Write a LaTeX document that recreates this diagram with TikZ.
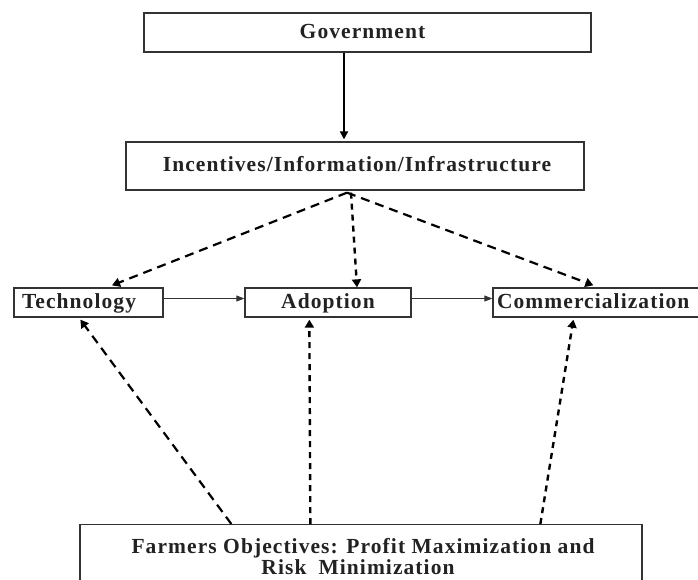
\documentclass[tikz,border=0pt]{standalone}
\usepackage{fontspec}
\setmainfont{Liberation Serif}[LetterSpace=5]
\usetikzlibrary{arrows.meta}
\definecolor{ink}{HTML}{222222}
\definecolor{edge}{HTML}{333333}
\tikzset{
  box/.style={draw=edge, line width=1.3pt, text=ink, font=\fontsize{21.5}{22}\selectfont\bfseries, inner sep=0pt, text height=15pt, text depth=4pt},
  lbl/.style={text=ink, font=\fontsize{21.5}{22}\selectfont\bfseries, inner sep=0pt},
  dasharrow/.style={draw=black, line width=2.2pt, dash pattern=on 9pt off 6pt, -{Triangle[length=8pt,width=9pt]}},
  vdasharrow/.style={draw=black, line width=2.4pt, dash pattern=on 6pt off 5pt, -{Triangle[length=8pt,width=9pt]}},
  thinarrow/.style={draw=edge, line width=1pt, -{Triangle[length=8pt,width=6pt]}},
  solidarrow/.style={draw=black, line width=2pt, -{Triangle[length=8pt,width=8pt]}},
}
\begin{document}
\begin{tikzpicture}[x=1pt,y=-1pt]
\useasboundingbox (0,0) rectangle (698,579);
\node[box, minimum width=447pt, minimum height=39pt] (gov) at (367.5,32.5) {\hspace*{-10pt}Government};
\node[box, minimum width=458pt, minimum height=48pt] (inc) at (355,166) {\hspace*{4pt}Incentives/Information/Infrastructure};
\node[box, minimum height=29pt, text width=135pt, inner xsep=7pt, align=left] (tech) at (88.5,302.5) {\hspace*{1pt}Technology};
\node[box, minimum width=166pt, minimum height=29pt] (adopt) at (328,302.5) {Adoption};
\node[box, minimum height=29pt, text width=206pt, inner xsep=4pt, align=left] (comm) at (600,302.5) {Commercialization};
\node[draw=edge, line width=1.3pt, minimum width=562pt, minimum height=72pt, anchor=north] (farm) at (361,524) {};
\node[lbl, anchor=base] (farm1) at (363,553) {Farmers Objectives: Profit Maximization and};
\node[lbl, anchor=base] (farm2) at (358,574) {Risk\hspace{12pt}Minimization};

\draw[solidarrow] ([xshift=-23.5pt]gov.south) -- ([xshift=-11pt,yshift=2pt]inc.north);

\draw[dasharrow] ([xshift=-8pt,yshift=-2pt]inc.south) -- ([xshift=23.5pt,yshift=2pt]tech.north);
\draw[vdasharrow] ([xshift=-4pt,yshift=-2pt]inc.south) -- ([xshift=29pt]adopt.north);
\draw[dasharrow] ([xshift=-8pt,yshift=-2pt]inc.south) -- ([xshift=101pt,yshift=2pt]comm.north west);

\draw[thinarrow] ([yshift=4pt]tech.east) -- ([yshift=4pt]adopt.west);
\draw[thinarrow] ([yshift=4pt]adopt.east) -- ([yshift=4pt]comm.west);

\draw[dasharrow] ([xshift=152pt]farm.north west) -- ([xshift=67pt,yshift=-2pt]tech.south west);
\draw[vdasharrow] ([xshift=231pt]farm.north west) -- ([xshift=65pt,yshift=-2pt]adopt.south west);
\draw[vdasharrow] ([xshift=461pt]farm.north west) -- ([xshift=81pt,yshift=-2pt]comm.south west);
\end{tikzpicture}
\end{document}
